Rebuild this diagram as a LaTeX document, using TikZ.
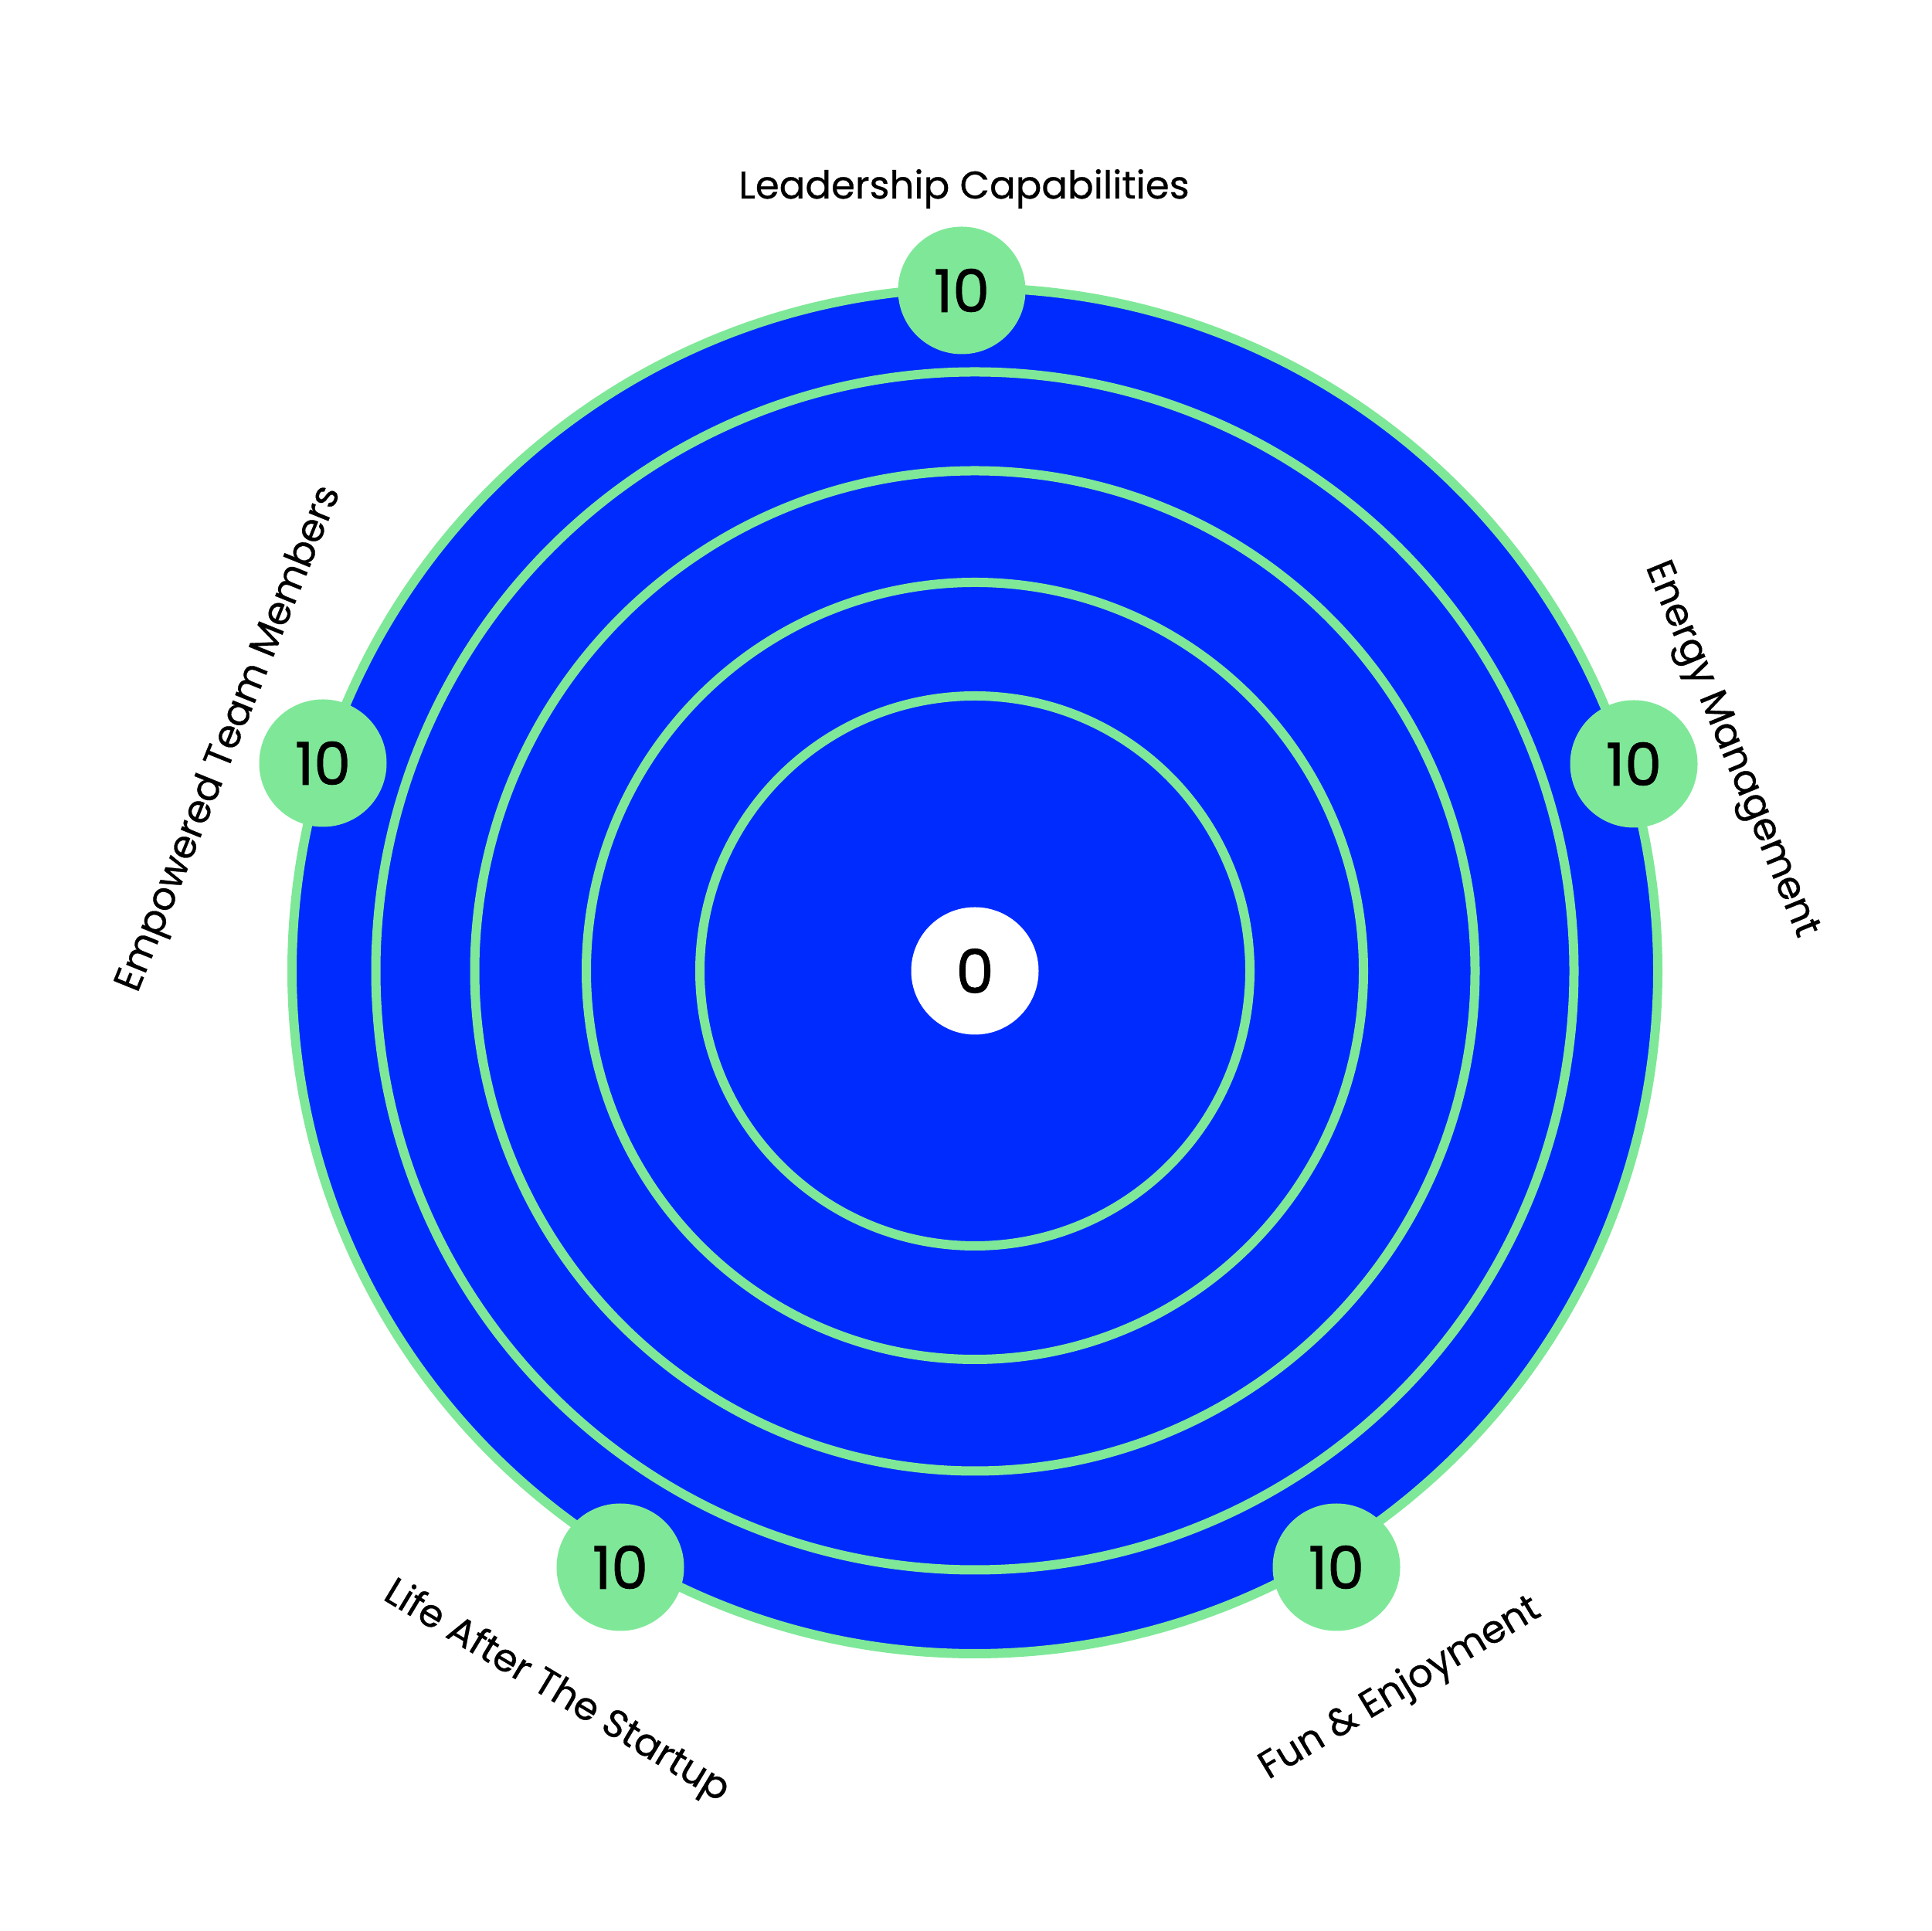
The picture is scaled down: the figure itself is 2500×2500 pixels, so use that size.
\documentclass[tikz,border=0pt]{standalone}
\usepackage{fontspec}
\setmainfont{Poppins}
\newfontfamily\labelfont[FakeBold=0.6]{Poppins}
\newfontfamily\numfont[FakeBold=1.2]{Poppins}
\definecolor{ringblue}{RGB}{0,43,255}
\definecolor{ringgreen}{RGB}{126,232,152}
\begin{document}
\begin{tikzpicture}[x=1pt,y=1pt,
  ring/.style={draw=ringgreen,line width=12pt},
  score/.style={circle,fill=ringgreen,minimum size=165pt,inner sep=0pt,font=\numfont\fontsize{76}{80}\selectfont},
  origin/.style={circle,fill=white,minimum size=165pt,inner sep=0pt,font=\numfont\fontsize{78}{80}\selectfont},
  axislabel/.style={inner sep=0pt,font=\labelfont\fontsize{49.8}{58}\selectfont}]
\fill[white] (0,0) rectangle (2500,2500);
\useasboundingbox (0,0) rectangle (2500,2500);
\coordinate (c) at (1262,1243);
\fill[ringblue] (c) circle[radius=884];
\draw[ring] (c) circle[radius=884];
\draw[ring] (c) circle[radius=775.5];
\draw[ring] (c) circle[radius=647.5];
\draw[ring] (c) circle[radius=503];
\draw[ring] (c) circle[radius=356];
\node[origin] (zero) at (c) {0};
\node[score] (s1) at (1245,2124) {10};
\node[score] (s2) at (2115,1511) {10};
\node[score] (s3) at (1730,471) {10};
\node[score] (s4) at (803,471) {10};
\node[score] (s5) at (418,1512) {10};
\node[axislabel,anchor=base] (l1) at (1248,2243) {Leadership Capabilities};
\node[axislabel,rotate=-67.7] (l2) at (2239,1529) {Energy Management};
\node[axislabel,rotate=31] (l3) at (1813,313) {Fun \& Enjoyment};
\node[axislabel,rotate=-31] (l4) at (720,309) {Life After The Startup};
\node[axislabel,rotate=68] (l5) at (298,1543) {Empowered Team Members};
\end{tikzpicture}
\end{document}
